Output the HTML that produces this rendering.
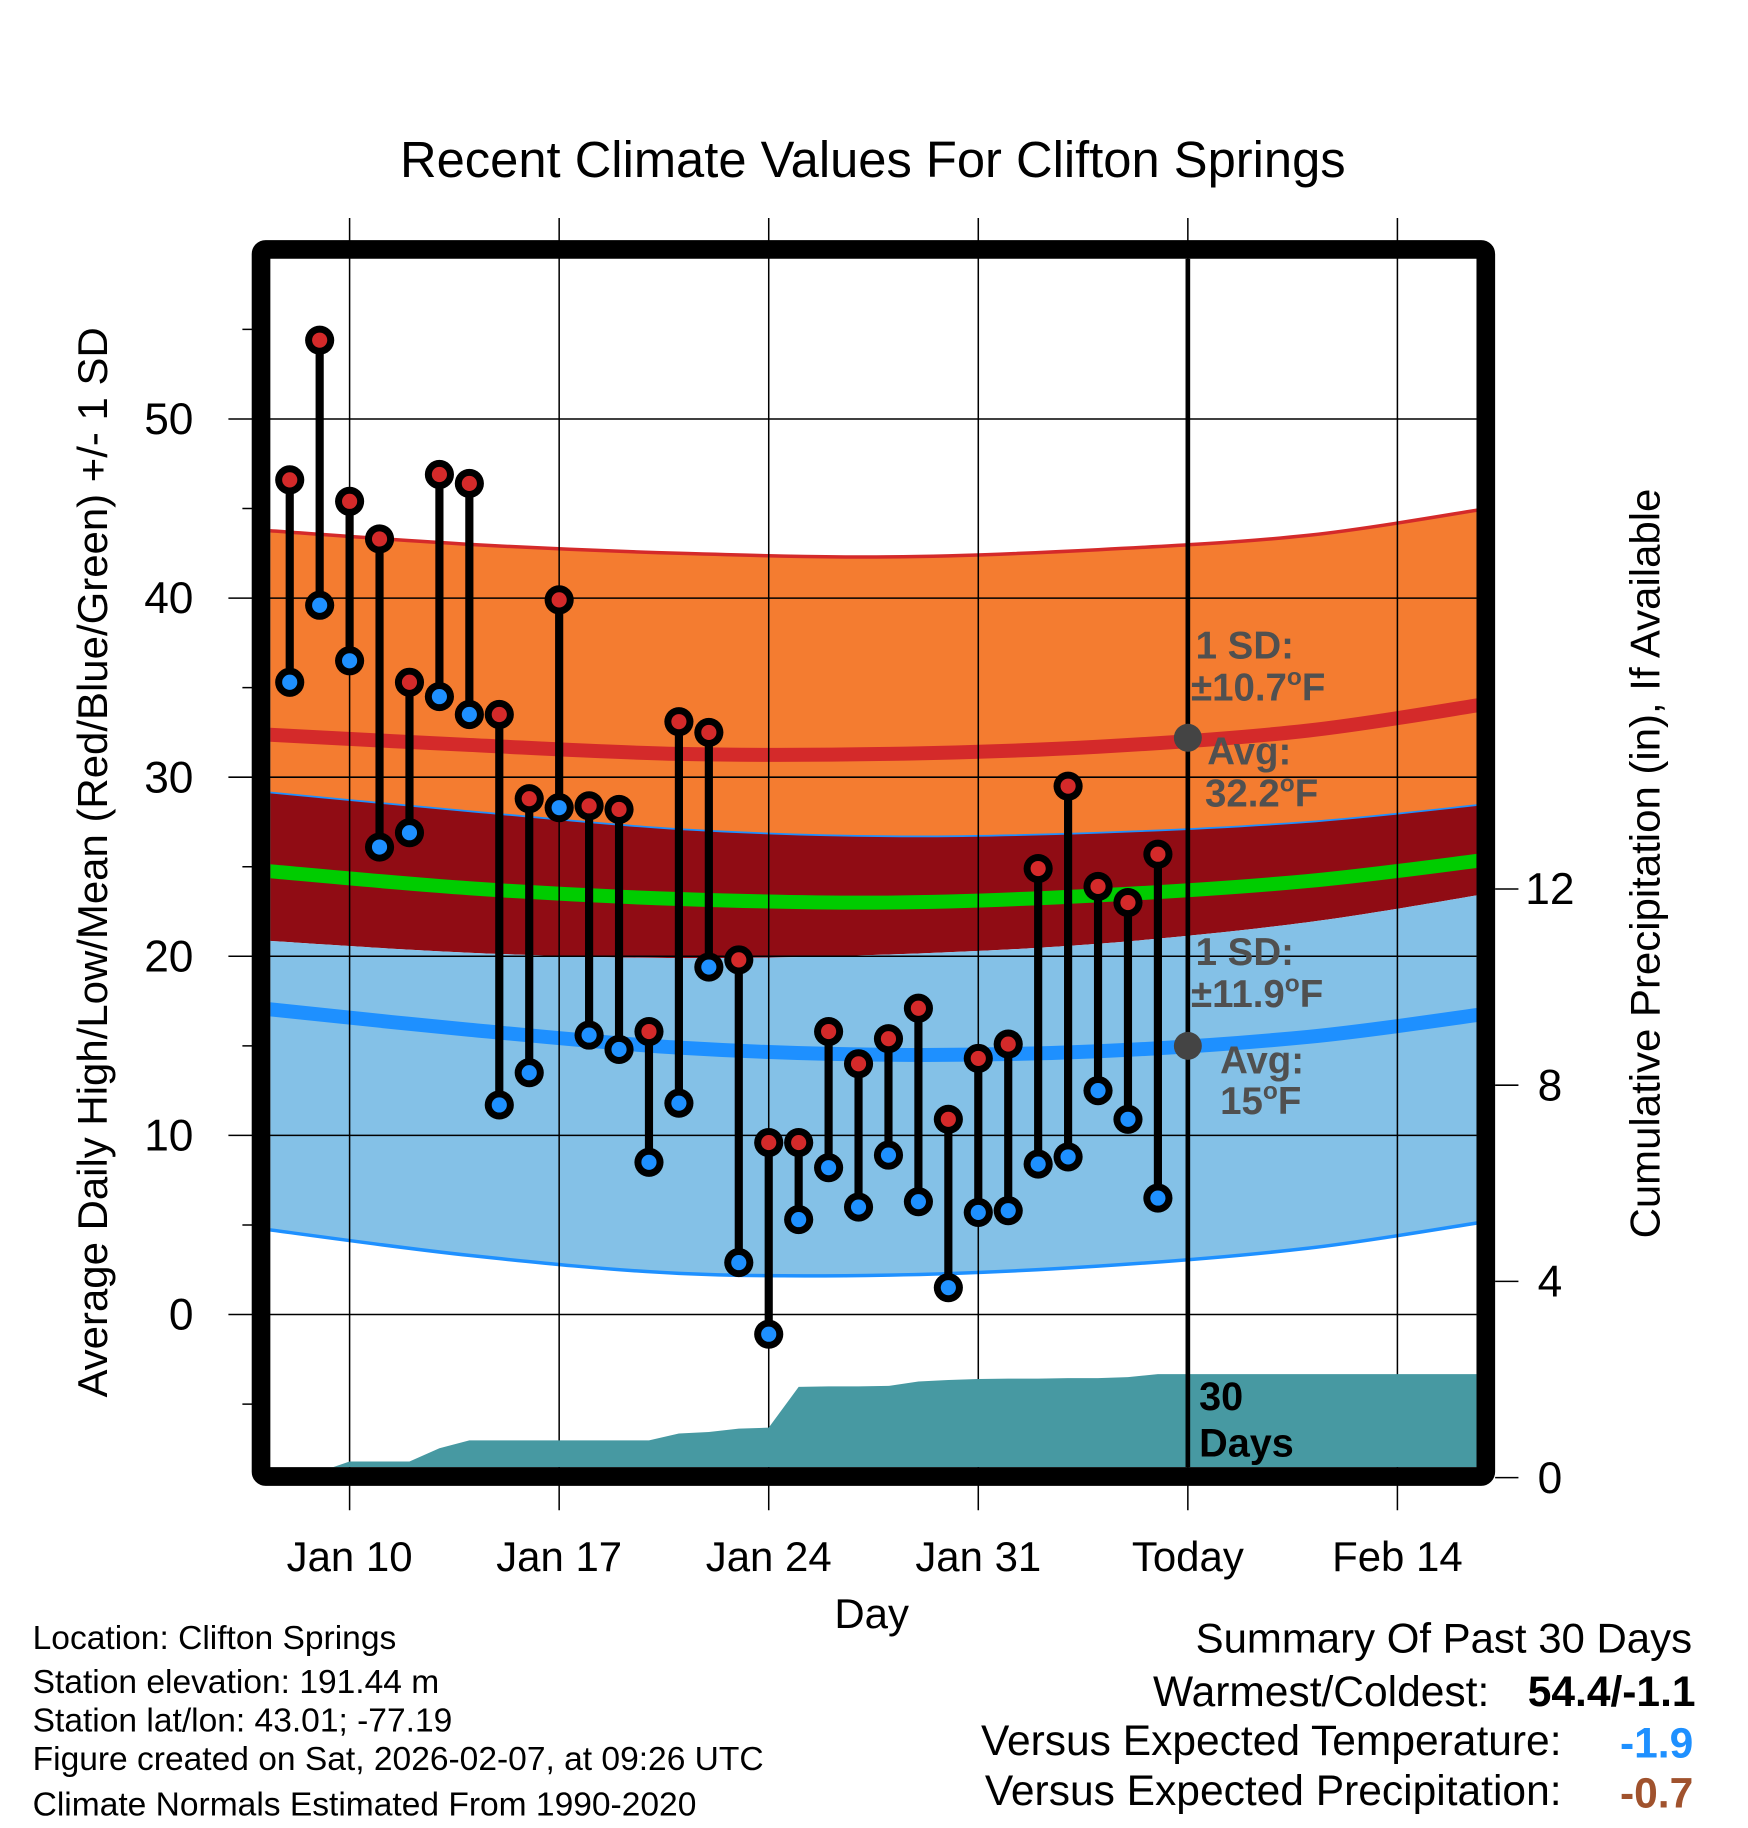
<!DOCTYPE html>
<html><head><meta charset="utf-8"><style>
html,body{margin:0;padding:0;background:#fff}
svg{display:block;font-family:"Liberation Sans",Arial,sans-serif}
</style></head><body>
<svg id="chart" width="1748" height="1828" viewBox="0 0 1500 1568.6" xmlns="http://www.w3.org/2000/svg">
<defs><clipPath id="plotclip"><rect x="232" y="222" width="1035" height="1037"/></clipPath></defs>
<rect width="1500" height="1569" fill="#fff"/>
<text x="749" y="152" text-anchor="middle" font-size="43.5">Recent Climate Values For Clifton Springs</text>
<g id="bands" clip-path="url(#plotclip)"></g>
<g id="grid"></g>
<g id="precip" clip-path="url(#plotclip)"></g>
<g id="marks"></g>
<g id="annot"></g>
<rect x="224" y="214" width="1051" height="1053" fill="none" stroke="#000" stroke-width="16" rx="4"/>
<g id="axes"></g>
<text transform="translate(92,740) rotate(-90)" text-anchor="middle" font-size="36">Average Daily High/Low/Mean (Red/Blue/Green) +/- 1 SD</text>
<text transform="translate(1424,741) rotate(-90)" text-anchor="middle" font-size="36">Cumulative Precipitation (in), If Available</text>
<text x="748" y="1397" text-anchor="middle" font-size="36">Day</text>
<g font-size="28.8">
<text x="28" y="1415">Location: Clifton Springs</text>
<text x="28" y="1453">Station elevation: 191.44 m</text>
<text x="28" y="1486">Station lat/lon: 43.01; -77.19</text>
<text x="28" y="1519">Figure created on Sat, 2026-02-07, at 09:26 UTC</text>
<text x="28" y="1558">Climate Normals Estimated From 1990-2020</text>
</g>
<g font-size="36.5">
<text x="1452" y="1418" text-anchor="end" font-size="36">Summary Of Past 30 Days</text>
<text x="1278" y="1464" text-anchor="end">Warmest/Coldest:</text>
<text x="1455" y="1464" text-anchor="end" font-weight="bold">54.4/-1.1</text>
<text x="1340" y="1506" text-anchor="end">Versus Expected Temperature:</text>
<text x="1453" y="1508" text-anchor="end" font-weight="bold" fill="#1e90ff">-1.9</text>
<text x="1340" y="1549" text-anchor="end">Versus Expected Precipitation:</text>
<text x="1453" y="1551" text-anchor="end" font-weight="bold" fill="#a0522d">-0.7</text>
</g>
</svg>
<script>
// ---- data ----
const dayLabels = ["Jan 10","Jan 17","Jan 24","Jan 31","Today","Feb 14"];
const dayTicks = [0,7,14,21,28,35];
const yTicks = [0,10,20,30,40,50];
const yMinorTicks = [-5,5,15,25,35,45,55];
const precipTicks = [0,4,8,12];
const obsDays = [-2,-1,0,1,2,3,4,5,6,7,8,9,10,11,12,13,14,15,16,17,18,19,20,21,22,23,24,25,26,27];
const highs = [46.6,54.4,45.4,43.3,35.3,46.9,46.4,33.5,28.8,39.9,28.4,28.2,15.8,33.1,32.5,19.8,9.6,9.6,15.8,14.0,15.4,17.1,10.9,14.3,15.1,24.9,29.5,23.9,23.0,25.7];
const lows = [35.3,39.6,36.5,26.1,26.9,34.5,33.5,11.7,13.5,28.3,15.6,14.8,8.5,11.8,19.4,2.9,-1.1,5.3,8.2,6.0,8.9,6.3,1.5,5.7,5.8,8.4,8.8,12.5,10.9,6.5];
const precip = [0,0.12,0.33,0.33,0.33,0.6,0.76,0.76,0.76,0.76,0.76,0.76,0.76,0.9,0.93,1.0,1.02,1.85,1.86,1.86,1.87,1.96,1.99,2.01,2.02,2.02,2.03,2.03,2.05,2.11];
const normDays = [-3,4,11,18,25,32,38];
const hiPlus = [43.8,43.0,42.5,42.3,42.7,43.5,45.0];
const hiAvg = [32.4,31.8,31.3,31.3,31.7,32.6,34.1];
const hiMinus = [29.2,28.1,27.1,26.7,26.9,27.5,28.5];
const meanAvg = [24.8,23.8,23.2,23.0,23.4,24.2,25.4];
const loPlus = [20.9,20.2,19.9,20.1,20.7,21.9,23.5];
const loAvg = [17.1,15.9,14.9,14.5,14.7,15.5,16.8];
const loMinus = [4.8,3.3,2.3,2.2,2.7,3.7,5.2];
const todayDay = 28;

// ---- axes ----
const X = d => 300 + d*25.69;
const Y = v => 1128 - v*15.37;
const P = p => 1268 - p*42.1;
const NS = "http://www.w3.org/2000/svg";
function mk(tag, attrs, parent){const e=document.createElementNS(NS,tag);for(const k in attrs)e.setAttribute(k,attrs[k]);parent.appendChild(e);return e;}
function smooth(xs, vals, f){
  const pts = xs.map((d,i)=>[X(d), f(vals[i])]);
  let s = "M"+pts[0][0]+","+pts[0][1];
  for(let i=0;i<pts.length-1;i++){
    const p0=pts[Math.max(0,i-1)],p1=pts[i],p2=pts[i+1],p3=pts[Math.min(pts.length-1,i+2)];
    s+=" C"+(p1[0]+(p2[0]-p0[0])/6)+","+(p1[1]+(p2[1]-p0[1])/6)+" "+(p2[0]-(p3[0]-p1[0])/6)+","+(p2[1]-(p3[1]-p1[1])/6)+" "+p2[0]+","+p2[1];
  }
  return s;
}
function reversePath(xs, vals){return smooth(xs.slice().reverse(), vals.slice().reverse(), Y).replace(/^M/,"L");}
function band(top, bot, fill, name){
  const e = mk("path",{d: smooth(normDays, top, Y)+" "+reversePath(normDays, bot)+" Z", fill}, document.getElementById("bands"));
  
  
}
function line(vals, color, w, name){
  const e = mk("path",{d: smooth(normDays, vals, Y), fill:"none", stroke:color, "stroke-width":w}, document.getElementById("bands"));
  
  
}
band(hiPlus, hiMinus, "#f47c30", "high-sd-band");
band(hiMinus, loPlus, "#900c14", "overlap-band");
band(loPlus, loMinus, "#84c1e7", "low-sd-band");
line(hiPlus, "#d42a2a", 3, "high-plus-sd-line");
line(hiMinus, "#1e90ff", 1.5, "high-minus-sd-line");
line(loMinus, "#1e90ff", 3, "low-minus-sd-line");
line(hiAvg, "#d42a2a", 12, "avg-high-line");
line(meanAvg, "#00cc00", 12, "avg-mean-line");
line(loAvg, "#1e90ff", 12, "avg-low-line");

// grid
const g = document.getElementById("grid");
yTicks.forEach(v=>{
  const l = mk("line",{x1:196,x2:1267,y1:Y(v),y2:Y(v),stroke:"#000","stroke-width":1.3},g);
  
  
  const t = mk("text",{x:166,y:Y(v)+13,"text-anchor":"end","font-size":38},g);
  t.textContent = v;
  
  
});
yMinorTicks.forEach(v=>{
  const l = mk("line",{x1:208,x2:222,y1:Y(v),y2:Y(v),stroke:"#000","stroke-width":1.3},g);
  
  
});
dayTicks.forEach((d,i)=>{
  const l = mk("line",{x1:X(d),x2:X(d),y1:187,y2:1296,stroke:"#000","stroke-width":1.3},g);
  
  
  const t = mk("text",{x:X(d),y:1348,"text-anchor":"middle","font-size":36},g);
  t.textContent = dayLabels[i];
  
  
});
precipTicks.forEach(p=>{
  const l = mk("line",{x1:1283,x2:1303,y1:P(p),y2:P(p),stroke:"#000","stroke-width":1.3},g);
  
  
  const t = mk("text",{x:1330,y:P(p)+13,"text-anchor":"middle","font-size":38},g);
  t.textContent = p;
  
  
});

// precip area
let pd = "M"+X(obsDays[0])+","+P(0);
obsDays.forEach((d,i)=>{pd += " L"+X(d)+","+P(precip[i]);});
pd += " L1267,"+P(precip[precip.length-1])+" L1267,1268 Z";
const pa = mk("path",{d:pd, fill:"#4799a2"}, document.getElementById("precip"));



// today line
const tl = mk("line",{x1:X(todayDay),x2:X(todayDay),y1:222,y2:1259,stroke:"#000","stroke-width":4}, document.getElementById("annot"));



// marks
const m = document.getElementById("marks");
obsDays.forEach((d,i)=>{
  const st = mk("line",{x1:X(d),x2:X(d),y1:Y(highs[i]),y2:Y(lows[i]),stroke:"#000","stroke-width":7},m);
  
  
  [[highs[i],"#d42a2a","high-point"],[lows[i],"#1e90ff","low-point"]].forEach(([v,c,n])=>{
    const o = mk("circle",{cx:X(d),cy:Y(v),r:12.5,fill:"#000"},m);
    
    
    const ci = mk("circle",{cx:X(d),cy:Y(v),r:6.5,fill:c},m);
    
    
  });
});

// annotations
const a = document.getElementById("annot");
function txt(x,y,s,name,size,color,bold){
  const t = mk("text",{x,y,"font-size":size,fill:color,"font-weight":bold?"bold":"normal"},a);
  t.innerHTML = s;
  
  
}
const hiNow = 32.2, loNow = 15;
const d1 = mk("circle",{cx:X(todayDay),cy:Y(hiNow),r:12,fill:"#444"},a);


const d2 = mk("circle",{cx:X(todayDay),cy:Y(loNow),r:12,fill:"#444"},a);


const gc="#505050";
txt(1026,565,"1 SD:","high-sd-label",33,gc,true);
txt(1022,601,"±10.7<tspan dy='-13' font-size='21'>o</tspan><tspan dy='13'>F</tspan>","high-sd-value",33,gc,true);
txt(1036,656,"Avg:","high-avg-label",33,gc,true);
txt(1034,692,"32.2<tspan dy='-13' font-size='21'>o</tspan><tspan dy='13'>F</tspan>","high-avg-value",33,gc,true);
txt(1026,828,"1 SD:","low-sd-label",33,gc,true);
txt(1022,864,"±11.9<tspan dy='-13' font-size='21'>o</tspan><tspan dy='13'>F</tspan>","low-sd-value",33,gc,true);
txt(1047,921,"Avg:","low-avg-label",33,gc,true);
txt(1047,956,"15<tspan dy='-13' font-size='21'>o</tspan><tspan dy='13'>F</tspan>","low-avg-value",33,gc,true);
txt(1029,1210,"30","days-count-label",34,"#000",true);
txt(1029,1250,"Days","days-label",34,"#000",true);
</script>
</body></html>
